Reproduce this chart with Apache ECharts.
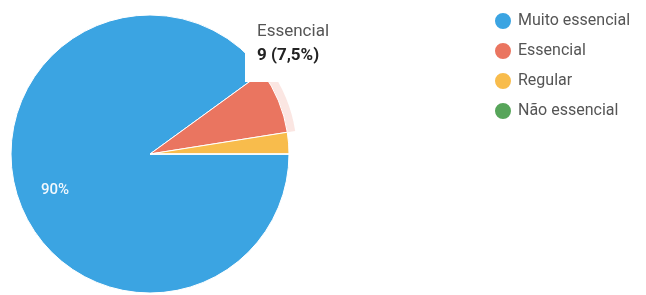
<!DOCTYPE html>
<html>
<head>
<meta charset="utf-8">
<script src="https://cdn.jsdelivr.net/npm/echarts@6/dist/echarts.min.js"></script>
<style>
  html, body { margin: 0; padding: 0; background: #fff; }
  #chart { width: 646px; height: 295px; }
</style>
</head>
<body>
<div id="chart"></div>
<script>
  // respostas por categoria
  const categorias = ['Muito essencial', 'Essencial', 'Regular', 'Não essencial']
  const respostas = [108, 9, 3, 0]
  const cores = ['#3ba4e2', '#ea7560', '#f8bc4c', '#57a55a']
  const destaque = 'Essencial'

  const total = respostas.reduce((a, b) => a + b, 0)
  const pct = (v) => (v / total * 100).toLocaleString('pt-BR', { maximumFractionDigits: 1 }) + '%'

  const chart = echarts.init(document.getElementById('chart'))

  const option = {
    animation: false,
    tooltip: {
      trigger: 'item',
      triggerOn: 'none',
      alwaysShowContent: true,
      position: [245, -4],
      backgroundColor: '#fff',
      borderWidth: 0,
      padding: [22, 10, 16, 12],
      extraCssText: 'box-shadow:none;border-radius:0;width:86px;',
      formatter: (p) => '<div style="font-family:Roboto,Arial,sans-serif;font-size:17px;color:#555;line-height:24px">' +
        p.name + '<br><b style="color:#222">' + p.value + ' (' + pct(p.value) + ')</b></div>'
    },
    legend: {
      orient: 'vertical',
      left: 488,
      top: 6,
      data: categorias,
      icon: 'circle',
      itemWidth: 18,
      itemHeight: 18,
      itemGap: 10,
      selectedMode: false,
      textStyle: { fontFamily: 'Roboto, Arial, sans-serif', fontSize: 16, color: '#555', padding: [0, 0, 0, 1] }
    },
    series: [
      {
        // halo do setor destacado
        type: 'pie',
        silent: true,
        center: [150, 154],
        radius: [139, 147],
        startAngle: 0,
        clockwise: true,
        label: { show: false },
        labelLine: { show: false },
        tooltip: { show: false },
        data: categorias.map((c, i) => ({
          name: c + ' ',
          value: respostas[i],
          itemStyle: { color: c === destaque ? 'rgba(234,117,96,0.18)' : 'rgba(0,0,0,0)' }
        }))
      },
      {
        type: 'pie',
        center: [150, 154],
        radius: [0, 139],
        startAngle: 0,
        clockwise: true,
        itemStyle: { borderColor: '#fff', borderWidth: 1 },
        emphasis: { scale: false },
        label: {
          show: true,
          position: 'inside',
          color: '#f2f8fd',
          fontFamily: 'Roboto, Arial, sans-serif',
          fontSize: 15,
          fontWeight: 500,
          formatter: (p) => p.percent >= 50 ? pct(p.value) : ''
        },
        labelLayout: (p) => p.dataIndex === 0 ? { x: 55, y: 190 } : {},
        data: categorias.map((c, i) => ({ name: c, value: respostas[i], itemStyle: { color: cores[i] } }))
      }
    ]
  }
  chart.setOption(option)
  chart.dispatchAction({ type: 'showTip', seriesIndex: 1, dataIndex: categorias.indexOf(destaque) })
</script>
</body>
</html>
